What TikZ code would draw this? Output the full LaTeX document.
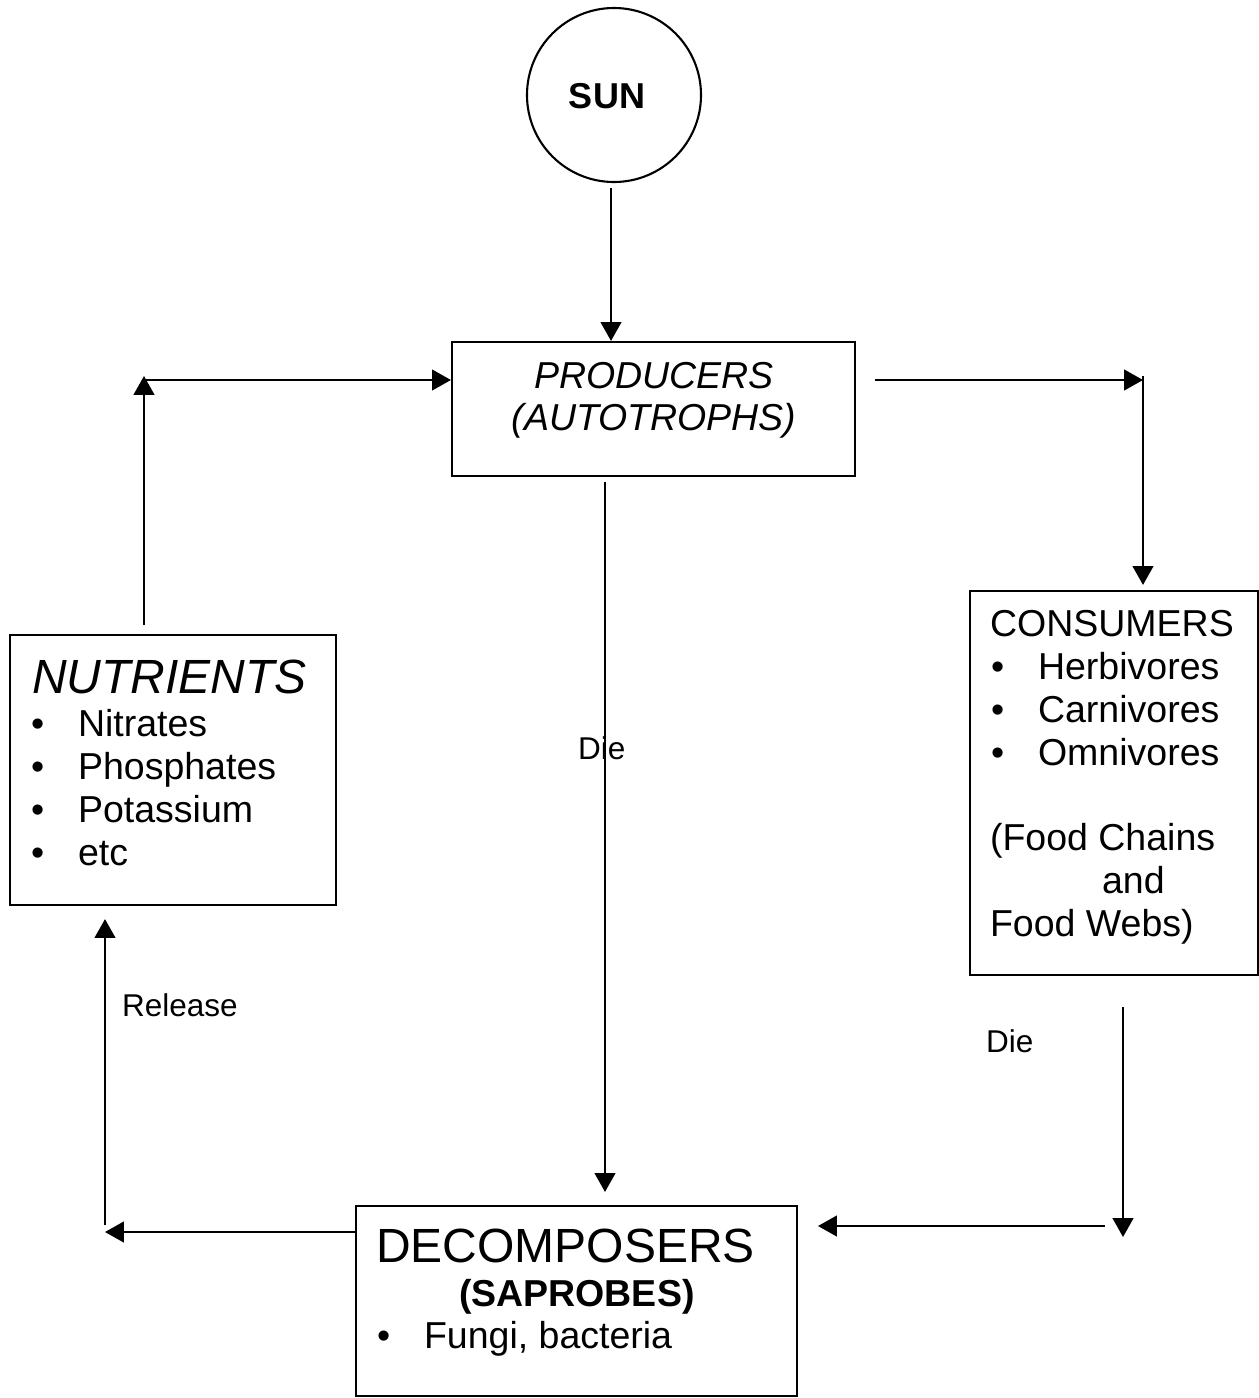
\documentclass[tikz,border=0pt]{standalone}
\usepackage{fontspec}
\setmainfont{Liberation Sans}
\usetikzlibrary{arrows.meta}
\usetikzlibrary{calc}

\begin{document}
\begin{tikzpicture}[x=0.3333pt, y=-0.3333pt, line width=0.7pt,
    every node/.style={font=\fontsize{12.5}{14}\selectfont},
    box/.style={draw, rectangle, inner sep=0pt},
    txt/.style={inner sep=0pt, anchor=base west},
    big/.style={font=\fontsize{16}{19}\selectfont},
    small/.style={font=\fontsize{10.5}{12}\selectfont},
    arr/.style={-{Triangle[length=6.3pt, width=6.9pt]}}]
  \useasboundingbox (0,0) rectangle (1259,1398);

  % sun and the four boxes
  \node[draw, circle, minimum size=58pt, inner sep=0pt] (sun) at (614,95) {};
  \node[inner sep=0pt, anchor=base, font=\fontsize{12}{14}\selectfont\bfseries] (suntxt) at (607,108) {SUN};

  \node[box, minimum width=134.33pt, minimum height=44.67pt] (prod) at (653.5,409) {};
  \node[box, minimum width=108.67pt, minimum height=90pt] (nutr) at (173,770) {};
  \node[box, minimum width=96pt, minimum height=128pt] (cons) at (1114,783) {};
  \node[box, minimum width=147pt, minimum height=63.33pt] (decomp) at (576.5,1301) {};

  % producers
  \node[inner sep=0pt, anchor=base, font=\fontsize{12.5}{14}\selectfont\itshape] (prod1) at (654,388) {PRODUCERS};
  \node[inner sep=0pt, anchor=base, font=\fontsize{12.5}{14}\selectfont\itshape] (prod2) at (654,430) {(AUTOTROPHS)};

  % nutrients
  \node[txt, font=\fontsize{16}{19}\selectfont\itshape] (nutrhead) at (31,693) {NUTRIENTS};
  \foreach \t [count=\i] in {Nitrates,Phosphates,Potassium,etc} {
    \node[txt] (nutb\i) at (30,693+43*\i) {\textbullet};
    \node[txt] (nut\i) at (77,693+43*\i) {\t};
  }

  % consumers
  \node[txt] (conshead) at (989,636) {CONSUMERS};
  \foreach \t [count=\i] in {Herbivores,Carnivores,Omnivores} {
    \node[txt] (consb\i) at (990,636+43*\i) {\textbullet};
    \node[txt] (cons\i) at (1037,636+43*\i) {\t};
  }
  \node[txt] (food1) at (989,850) {(Food Chains};
  \node[txt] (food2) at (1101,893) {and};
  \node[txt] (food3) at (989,936) {Food Webs)};

  % decomposers
  \node[txt, big] (dechead) at (375,1262) {DECOMPOSERS};
  \node[txt, font=\fontsize{12.5}{14}\selectfont\bfseries] (sapro) at (458,1306) {(SAPROBES)};
  \node[txt] (decb) at (376,1348) {\textbullet};
  \node[txt] (fungi) at (423,1348) {Fungi, bacteria};

  % free ends of the arrows
  \coordinate (sunfoot) at (611,188);
  \coordinate (nutrtop) at (144,625);
  \coordinate (tlup) at (144,376);
  \coordinate (tlright) at (145,380);
  \coordinate (prodout) at (875,380);
  \coordinate (trright) at (1143,380);
  \coordinate (trdown) at (1143,376);
  \coordinate (prodfoot) at (605,482);
  \coordinate (consfoot) at (1123,1007);
  \coordinate (brdown) at (1123,1237);
  \coordinate (brleft) at (1105,1226);
  \coordinate (decin) at (818,1226);
  \coordinate (blleft) at (105,1232);
  \coordinate (blup) at (105,1225);

  % arrows
  \draw[arr] (sunfoot) -- (sunfoot |- prod.north);
  \draw[arr] (nutrtop) -- (tlup);
  \draw[arr] (tlright) -- (tlright -| prod.west);
  \draw[arr] (prodout) -- (trright);
  \draw[arr] (trdown) -- ($(trdown |- cons.north)+(0,-5)$);
  \draw[arr] (prodfoot) -- ($(prodfoot |- decomp.north)+(0,-13)$);
  \draw[arr] (consfoot) -- (brdown);
  \draw[arr] (brleft) -- (decin);
  \draw[arr] (decomp.west |- blleft) -- (blleft);
  \draw[arr] (blup) -- ($(blup |- nutr.south)+(0,13)$);

  % labels
  \node[txt, small] (die1) at (577,759) {Die};
  \node[txt, small] (die2) at (985,1052) {Die};
  \node[txt, small] (release) at (121,1016) {Release};
\end{tikzpicture}
\end{document}
